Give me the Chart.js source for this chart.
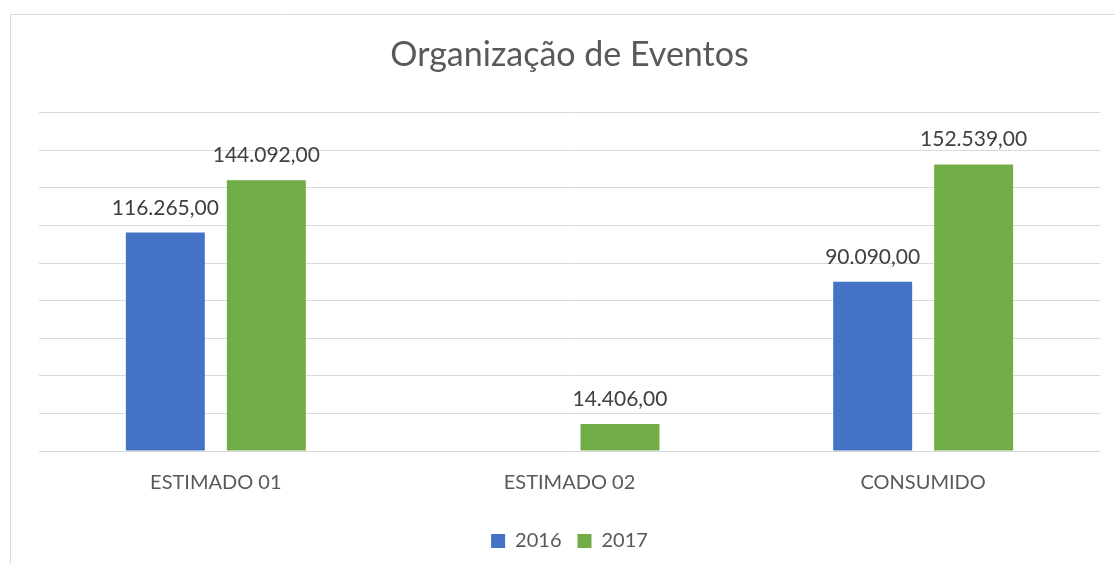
<!DOCTYPE html>
<html lang="pt">
<head>
  <meta charset="UTF-8">
  <title>Organização de Eventos</title>
  <style>
    html, body { margin: 0; padding: 0; background: #fff; }
    #wrap { width: 1115px; height: 564px; }
  </style>
</head>
<body>
  <div id="wrap"><canvas id="chartEventos"></canvas></div>

  <script src="https://cdn.jsdelivr.net/npm/chart.js"></script>
  <script>
    const categories = ['ESTIMADO 01', 'ESTIMADO 02', 'CONSUMIDO'];
    const seriesNames = ['2016', '2017'];
    const values2016 = [116265, null, 90090];
    const values2017 = [144092, 14406, 152539];

    const FONT = 'Lato, "Open Sans", sans-serif';

    // 116265 -> "116.265,00"
    function formatBR(v) {
      const parts = v.toFixed(2).split('.');
      return parts[0].replace(/\B(?=(\d{3})+(?!\d))/g, '.') + ',' + parts[1];
    }

    // light frame round the chart, like the spreadsheet chart box
    const framePlugin = {
      id: 'frame',
      beforeDraw(chart) {
        const ctx = chart.ctx;
        ctx.save();
        ctx.fillStyle = '#ffffff';
        ctx.fillRect(0, 0, chart.width, chart.height);
        ctx.strokeStyle = '#d9d9d9';
        ctx.lineWidth = 1;
        ctx.beginPath();
        ctx.moveTo(10.5, chart.height);
        ctx.lineTo(10.5, 14.5);
        ctx.lineTo(chart.width, 14.5);
        ctx.stroke();
        ctx.restore();
      }
    };

    const valueLabels = {
      id: 'valueLabels',
      afterDatasetsDraw(chart) {
        const ctx = chart.ctx;
        ctx.save();
        ctx.font = '21px ' + FONT;
        ctx.fillStyle = '#404040';
        ctx.textAlign = 'center';
        ctx.textBaseline = 'alphabetic';
        chart.data.datasets.forEach((ds, i) => {
          const meta = chart.getDatasetMeta(i);
          meta.data.forEach((bar, j) => {
            const v = ds.data[j];
            if (v === null || v === undefined) return;
            ctx.fillText(formatBR(v), bar.x, bar.y - 18);
          });
        });
        ctx.restore();
      }
    };

    var ctx = document.getElementById('chartEventos').getContext('2d');
    var chart = new Chart(ctx, {
      type: 'bar',
      data: {
        labels: categories,
        datasets: [{
          label: seriesNames[0],
          data: values2016,
          backgroundColor: '#4472C4',
          categoryPercentage: 0.571,
          barPercentage: 0.782
        }, {
          label: seriesNames[1],
          data: values2017,
          backgroundColor: '#70AD47',
          categoryPercentage: 0.571,
          barPercentage: 0.782
        }]
      },
      options: {
        responsive: true,
        maintainAspectRatio: false,
        animation: false,
        layout: {
          padding: { left: 39, right: 15, top: 20, bottom: 3 }
        },
        scales: {
          x: {
            grid: { display: false, drawTicks: false },
            border: { display: false },
            ticks: {
              color: '#595959',
              font: { family: FONT, size: 20 },
              padding: 20
            }
          },
          y: {
            min: 0,
            max: 180000,
            ticks: { display: false, stepSize: 20000 },
            grid: { color: '#d9d9d9', lineWidth: 1, drawTicks: false },
            border: { display: false }
          }
        },
        plugins: {
          title: {
            display: true,
            text: 'Organização de Eventos',
            color: '#595959',
            font: { family: FONT, size: 34, weight: 'normal' },
            padding: { top: 15, bottom: 37 }
          },
          legend: {
            position: 'bottom',
            labels: {
              color: '#595959',
              font: { family: FONT, size: 20 },
              boxWidth: 14,
              boxHeight: 14,
              padding: 16
            }
          },
          tooltip: { enabled: false }
        }
      },
      plugins: [framePlugin, valueLabels]
    });
  </script>
</body>
</html>
